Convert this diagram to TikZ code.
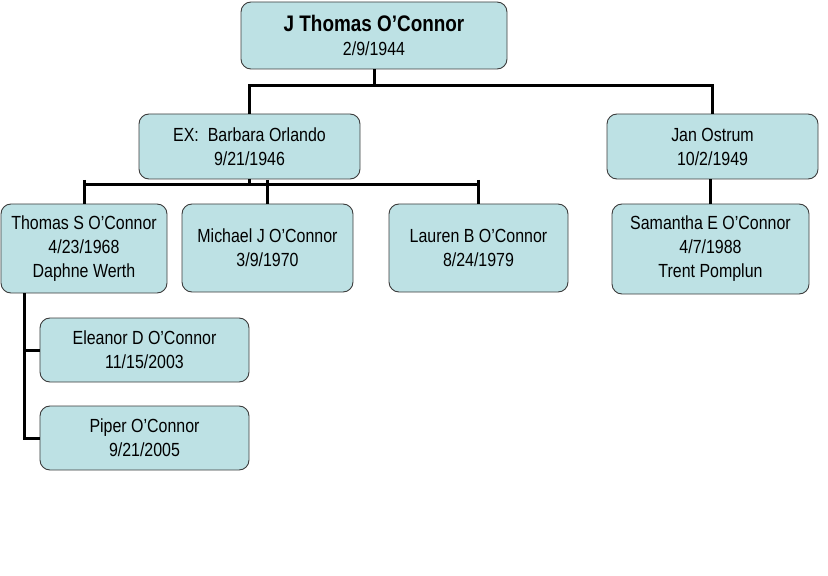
\documentclass[tikz,border=0pt]{standalone}
\usepackage{fontspec}
\setmainfont[FakeStretch=0.84]{Liberation Sans}
\usetikzlibrary{positioning}
\definecolor{boxfill}{RGB}{189,225,228}
\definecolor{boxedge}{RGB}{60,60,60}
\tikzset{
  person/.style={draw=boxedge, line width=0.9bp, fill=boxfill, rounded corners=10bp,
    align=center, inner sep=0pt, font=\fontsize{19bp}{24bp}\selectfont},
  link/.style={line width=3bp},
}
\begin{document}
\begin{tikzpicture}[x=1bp, y=-1bp]
  \useasboundingbox (0,0) rectangle (828,576);

  % boxes
  \node[person, minimum width=266bp, minimum height=67bp] (jtom) at (374,35.5)
    {{\fontsize{22.5bp}{25bp}\selectfont\bfseries J Thomas O’Connor}\\2/9/1944};
  \node[person, minimum width=221bp, minimum height=65bp] (barb) at (249.5,146.5)
    {EX:\ \ Barbara Orlando\\9/21/1946};
  \node[person, minimum width=211bp, minimum height=65bp] (jan) at (712.5,146.5)
    {Jan Ostrum\\10/2/1949};
  \node[person, minimum width=166bp, minimum height=89bp] (thoms) at (84,248.5)
    {Thomas S O’Connor\\4/23/1968\\Daphne Werth};
  \node[person, minimum width=171bp, minimum height=88bp] (mich) at (267.5,248)
    {Michael J O’Connor\\3/9/1970};
  \node[person, minimum width=179bp, minimum height=88bp] (laur) at (478.5,248)
    {Lauren B O’Connor\\8/24/1979};
  \node[person, minimum width=197bp, minimum height=90bp] (sam) at (710.5,249)
    {Samantha E O’Connor\\4/7/1988\\Trent Pomplun};
  \node[person, minimum width=209bp, minimum height=64bp] (elea) at (144.5,350)
    {Eleanor D O’Connor\\11/15/2003};
  \node[person, minimum width=209bp, minimum height=64bp] (piper) at (144.5,438)
    {Piper O’Connor\\9/21/2005};

  % connectors
  \coordinate (bus1) at (0,86);
  \coordinate (bus2) at (0,185);
  \coordinate (bus2t) at (0,180);
  \coordinate (gx) at (24,0);
  \draw[link] (jtom.south) -- (jtom.south |- bus1);
  \draw[link] (barb.north) -- (barb.north |- bus1) -- (jan.north |- bus1) -- (jan.north);
  \draw[link] (barb.south) -- (barb.south |- bus2);
  \draw[link] (thoms.north |- bus2) -- (laur.north |- bus2);
  \foreach \k in {thoms,mich,laur}
    \draw[link] (\k.north |- bus2t) -- (\k.north);
  \draw[link] (sam.north |- jan.south) -- (sam.north);
  \draw[link] (thoms.south -| gx) |- (piper.west);
  \draw[link] (gx |- elea.west) -- (elea.west);
\end{tikzpicture}
\end{document}
